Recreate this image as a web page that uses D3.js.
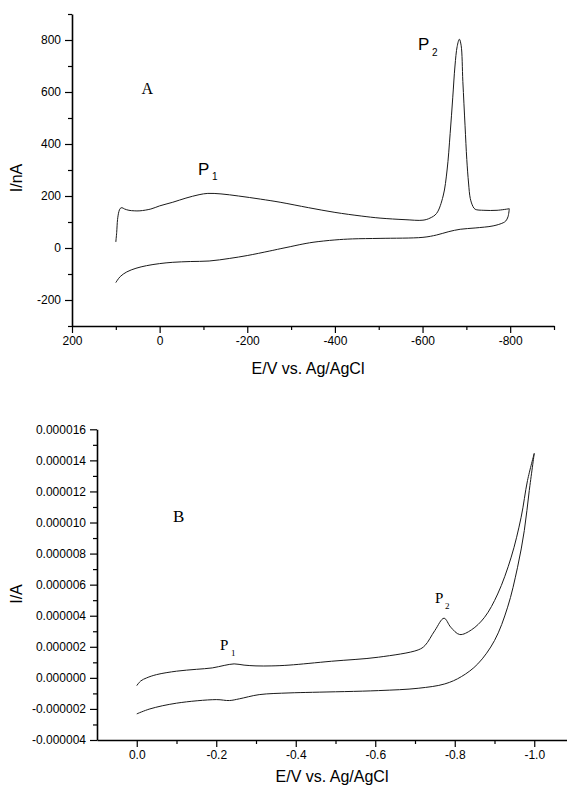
<!DOCTYPE html>
<html>
<head>
<meta charset="utf-8">
<script src="https://cdn.jsdelivr.net/npm/d3@7"></script>
<style>
  html, body { margin: 0; padding: 0; background: #fff; }
  svg { display: block; }
  .tick text { font-family: "Liberation Sans", Arial, sans-serif; font-size: 12px; fill: #000; }
  .axis path, .axis line { stroke: #000; }
</style>
</head>
<body>
<script>
// ---------- Panel A data (E in mV, I in nA) ----------
const aForwardE = [100, 98, 96, 93, 90, 86, 80, 70, 58, 45, 20, 0, -30, -60, -90, -110, -140, -180, -230, -275, -340, -400, -460, -503, -560, -601, -617, -632, -647, -656, -663, -669, -674, -679, -684, -688, -692, -697, -701, -705, -709, -715, -720, -740, -770, -798];
const aForwardI = [23, 60, 110, 140, 152, 155, 150, 145, 143, 143, 150, 162, 176, 192, 205, 210, 208, 200, 188, 176, 155, 137, 123, 115, 109, 107, 115, 133, 200, 300, 440, 580, 700, 775, 803, 780, 640, 470, 340, 250, 190, 160, 149, 145, 145, 151];
const aReverseE = [-798, -795, -790, -784, -761, -720, -686, -660, -632, -601, -503, -440, -400, -350, -320, -298, -275, -250, -200, -160, -113, -70, -30, 0, 30, 54, 75, 90, 100];
const aReverseI = [151, 120, 104, 97, 85, 77, 72, 63, 50, 41, 37, 35, 31, 22, 13, 5, -3, -12, -29, -40, -50, -52, -55, -60, -68, -78, -92, -110, -133];
const aXTicks = [200, 0, -200, -400, -600, -800];
const aXMinor = [100, -100, -300, -500, -700, -900];
const aYTicks = [-200, 0, 200, 400, 600, 800];
const aYMinor = [-300, -100, 100, 300, 500, 700, 900];

// ---------- Panel B data (E in V, I in A) ----------
const bForwardE = [0, -0.01, -0.025, -0.05, -0.1, -0.15, -0.19, -0.22, -0.245, -0.27, -0.3, -0.34, -0.383, -0.49, -0.608, -0.708, -0.725, -0.75, -0.773, -0.79, -0.8125, -0.842, -0.875, -0.908, -0.942, -0.967, -0.983, -1.0];
const bForwardI = [-0.5e-6, -0.2e-6, 0.0, 0.21e-6, 0.43e-6, 0.55e-6, 0.64e-6, 0.8e-6, 0.9e-6, 0.82e-6, 0.77e-6, 0.77e-6, 0.82e-6, 1.07e-6, 1.33e-6, 1.8e-6, 2.08e-6, 3.05e-6, 3.84e-6, 3.26e-6, 2.79e-6, 3.09e-6, 3.9e-6, 5.4e-6, 7.77e-6, 10.34e-6, 12.7e-6, 14.45e-6];
const bReverseE = [-1.0, -0.9875, -0.975, -0.958, -0.933, -0.9, -0.858, -0.8167, -0.775, -0.708, -0.608, -0.442, -0.383, -0.308, -0.258, -0.233, -0.2, -0.1, -0.033, 0];
const bReverseI = [14.45e-6, 12.06e-6, 9.48e-6, 7.12e-6, 4.55e-6, 2.4e-6, 0.9e-6, 0.08e-6, -0.39e-6, -0.67e-6, -0.82e-6, -0.93e-6, -0.97e-6, -1.08e-6, -1.35e-6, -1.46e-6, -1.40e-6, -1.63e-6, -2.0e-6, -2.32e-6];
const bXTicks = [0, -0.2, -0.4, -0.6, -0.8, -1.0];
const bXMinor = [-0.1, -0.3, -0.5, -0.7, -0.9, -1.1];
const bYTicks = [-4e-6, -2e-6, 0, 2e-6, 4e-6, 6e-6, 8e-6, 10e-6, 12e-6, 14e-6, 16e-6];
const bYMinor = [-3e-6, -1e-6, 1e-6, 3e-6, 5e-6, 7e-6, 9e-6, 11e-6, 13e-6, 15e-6];

const W = 567, H = 787;
const svg = d3.select("body").append("svg").attr("width", W).attr("height", H);

const sans = '"Liberation Sans", Arial, sans-serif';
const serif = '"Liberation Serif", "Times New Roman", serif';

function drawPanel(cfg) {
  const g = svg.append("g");
  const x = d3.scaleLinear().domain(cfg.xDomain).range(cfg.xRange);
  const y = d3.scaleLinear().domain(cfg.yDomain).range(cfg.yRange);
  const x0 = cfg.xRange[0], yB = cfg.yRange[0];

  // minor ticks
  g.append("g").attr("class", "axis").attr("transform", `translate(0,${yB})`)
    .call(d3.axisBottom(x).tickValues(cfg.xMinor).tickSize(4).tickSizeOuter(0).tickFormat(""))
    .call(s => s.select(".domain").remove());
  g.append("g").attr("class", "axis").attr("transform", `translate(${x0},0)`)
    .call(d3.axisLeft(y).tickValues(cfg.yMinor).tickSize(4).tickSizeOuter(0).tickFormat(""))
    .call(s => s.select(".domain").remove());
  // major axes
  g.append("g").attr("class", "axis").attr("transform", `translate(0,${yB})`)
    .call(d3.axisBottom(x).tickValues(cfg.xTicks).tickSize(7).tickPadding(3).tickSizeOuter(0).tickFormat(cfg.xFmt));
  g.append("g").attr("class", "axis").attr("transform", `translate(${x0},0)`)
    .call(d3.axisLeft(y).tickValues(cfg.yTicks).tickSize(7).tickPadding(4).tickSizeOuter(0).tickFormat(cfg.yFmt));
  g.selectAll(".axis .domain").attr("stroke-width", 1.6);
  g.selectAll(".axis line").attr("stroke-width", 1.2);
  g.selectAll(".axis text").attr("font-family", sans).attr("font-size", 12);

  const line = d3.line().x(d => x(d[0])).y(d => y(d[1])).curve(d3.curveCatmullRom.alpha(0.5));
  cfg.series.forEach(s => {
    g.append("path").datum(d3.zip(s.E, s.I))
      .attr("d", line).attr("fill", "none").attr("stroke", "#1a1a1a").attr("stroke-width", 1);
  });

  // axis titles
  g.append("text").attr("x", (cfg.xRange[0] + Math.min(cfg.xRange[1], W)) / 2 + cfg.xTitleShift)
    .attr("y", cfg.xTitleY).attr("text-anchor", "middle")
    .attr("font-family", sans).attr("font-size", 16).text("E/V vs. Ag/AgCl");
  g.append("text").attr("transform", `translate(22,${cfg.yTitleY}) rotate(-90)`)
    .attr("text-anchor", "middle").attr("font-family", sans).attr("font-size", 16).text(cfg.yTitle);
  return g;
}

const fmtInt = d => String(d);
drawPanel({
  xDomain: [200, -900], xRange: [72, 554],
  yDomain: [-300, 900], yRange: [326, 14],
  xTicks: aXTicks, xMinor: aXMinor, yTicks: aYTicks, yMinor: aYMinor,
  xFmt: fmtInt, yFmt: fmtInt,
  series: [{E: aForwardE, I: aForwardI}, {E: aReverseE, I: aReverseI}],
  xTitleY: 374, xTitleShift: -5, yTitleY: 178, yTitle: "I/nA"
});
drawPanel({
  xDomain: [0.1, -1.1], xRange: [97, 574],
  yDomain: [-4e-6, 16e-6], yRange: [740, 429.3],
  xTicks: bXTicks, xMinor: bXMinor, yTicks: bYTicks, yMinor: bYMinor,
  xFmt: d => d.toFixed(1).replace("-0.0", "0.0"), yFmt: d => d.toFixed(6).replace(/^-0\.000000$/, "0.000000"),
  series: [{E: bForwardE, I: bForwardI}, {E: bReverseE, I: bReverseI}],
  xTitleY: 782, xTitleShift: 0, yTitleY: 594, yTitle: "I/A"
});

// annotations
function label(txt, sub, x, y, fam, size, subSize, subDx, subDy) {
  svg.append("text").attr("x", x).attr("y", y).attr("font-family", fam).attr("font-size", size).text(txt);
  if (sub) svg.append("text").attr("x", x + subDx).attr("y", y + subDy).attr("font-family", fam).attr("font-size", subSize).text(sub);
}
label("A", null, 141.5, 94, serif, 16);
label("P", "1", 198, 175, sans, 17, 10, 14, 5);
label("P", "2", 418, 50, sans, 17, 10, 14, 6);
label("B", null, 173, 522, serif, 17);
label("P", "1", 220, 650, serif, 15, 9, 11, 6);
label("P", "2", 435, 603, serif, 15, 9, 10, 6);
</script>
</body>
</html>
